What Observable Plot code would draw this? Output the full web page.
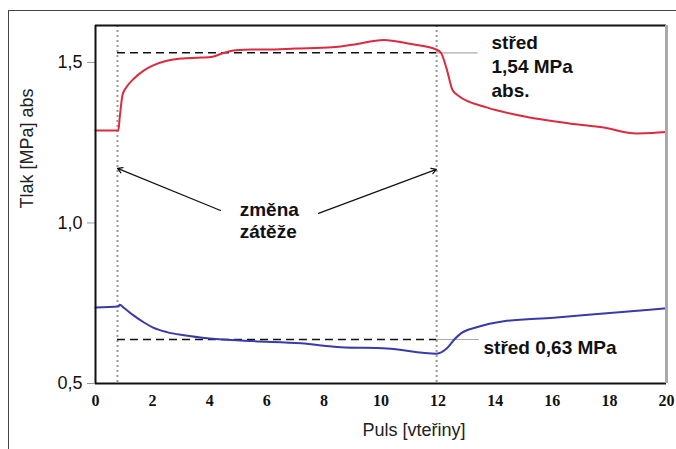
<!DOCTYPE html>
<html>
<head>
<meta charset="utf-8">
<script src="https://cdn.jsdelivr.net/npm/d3@7"></script>
<script src="https://cdn.jsdelivr.net/npm/@observablehq/plot@0.6"></script>
<style>
  html, body { margin: 0; padding: 0; background: #fff; }
  #wrap { position: relative; width: 676px; height: 449px; overflow: hidden; }
  #outer { position: absolute; left: 8px; top: 10px; width: 700px; height: 460px;
           border-top: 1.5px solid #444; border-left: 1.5px solid #444; }
  #chart { position: absolute; left: 0; top: 0; }
</style>
</head>
<body>
<div id="wrap"><div id="outer"></div><div id="chart"></div></div>
<script>
// Red series (upper pressure), seconds vs MPa abs
const redX = [0, 0.8, 0.85, 0.95, 1.1, 1.35, 1.7, 2.0, 2.5, 3.0, 3.7, 4.1, 4.5, 4.9, 5.5, 6.0, 7.0, 8.3, 9.0, 10.1, 11.0, 11.95, 12.1, 12.3, 12.5, 12.7, 13.7, 14.85, 16.6, 17.8, 18.95, 19.5, 20];
const redY = [1.288, 1.288, 1.33, 1.40, 1.425, 1.45, 1.475, 1.49, 1.505, 1.512, 1.515, 1.518, 1.53, 1.538, 1.54, 1.54, 1.543, 1.547, 1.555, 1.57, 1.558, 1.54, 1.53, 1.48, 1.415, 1.397, 1.36, 1.335, 1.31, 1.297, 1.279, 1.28, 1.283];
// Blue series (lower pressure)
const blueX = [0, 0.8, 0.85, 1.0, 1.33, 1.7, 2.0, 2.5, 3.1, 4.0, 5.5, 7.2, 8.6, 10.2, 11.95, 12.3, 12.6, 12.8, 13.35, 14.3, 16.05, 17.8, 20];
const blueY = [0.737, 0.74, 0.745, 0.735, 0.712, 0.69, 0.675, 0.66, 0.65, 0.64, 0.632, 0.625, 0.613, 0.609, 0.593, 0.609, 0.64, 0.656, 0.675, 0.694, 0.705, 0.718, 0.734];
// Load-change instants (vertical dotted lines)
const changeX = [0.77, 11.95];
// Mean levels (dashed) and their label connectors
const meanY = [1.53, 0.637];
const meanX1 = [0.77, 0.77];
const meanX2 = [11.95, 11.95];
const connX2 = [13.4, 13.45];
// Arrows
const arrowX1 = [4.38, 7.81];
const arrowY1 = [1.039, 1.03];
const arrowX2 = [0.77, 11.94];
const arrowY2 = [1.17, 1.167];
// Annotations
const noteText = ["změna\nzátěže", "střed\n1,54 MPa\nabs.", "střed 0,63 MPa"];
const noteX = [5.05, 13.87, 13.59];
const noteY = [1.01, 1.593, 0.615];
const noteAnchor = ["middle", "top", "middle"];
// Axes
const xTicks = [0, 2, 4, 6, 8, 10, 12, 14, 16, 18, 20];
const yTicks = [0.5, 1.0, 1.5];
const xDomain = [0, 20];
const yDomain = [0.5, 1.615];
const xLabel = "Puls [vteřiny]";
const yLabel = "Tlak [MPa] abs";

const red = redX.map((x, i) => ({x, y: redY[i]}));
const blue = blueX.map((x, i) => ({x, y: blueY[i]}));
const means = meanY.map((y, i) => ({y, x1: meanX1[i], x2: meanX2[i], c2: connX2[i]}));
const arrows = arrowX1.map((x1, i) => ({x1, y1: arrowY1[i], x2: arrowX2[i], y2: arrowY2[i]}));
const notes = noteText.map((t, i) => ({t, x: noteX[i], y: noteY[i], a: noteAnchor[i]}));

const fmt = d => d3.format(".1f")(d).replace(".", ",");
const sans = "Liberation Sans, Arial, sans-serif";

const chart = Plot.plot({
  width: 676,
  height: 449,
  marginLeft: 95,
  marginRight: 10,
  marginTop: 25,
  marginBottom: 66,
  style: {fontFamily: sans, background: "transparent", overflow: "visible"},
  x: {domain: xDomain, ticks: xTicks},
  y: {domain: yDomain, ticks: yTicks},
  marks: [
    Plot.axisX({ticks: xTicks, tickSize: 0, tickPadding: 11, label: null,
      fontFamily: "Liberation Serif, Times New Roman, serif", fontWeight: "bold", fontSize: 16, fill: "#111"}),
    Plot.axisY({ticks: yTicks, tickSize: 8, tickPadding: 5, label: null, tickFormat: fmt,
      fontSize: 18, fill: "#111", stroke: "#999"}),
    Plot.text([xLabel], {frameAnchor: "bottom", dx: 33, dy: 47, lineAnchor: "middle", fontSize: 18, fill: "#222"}),
    Plot.text([yLabel], {frameAnchor: "left", rotate: -90, dx: -68, dy: 4, fontSize: 18, fill: "#222"}),
    // vertical dotted lines
    Plot.ruleX(changeX, {stroke: "#999", strokeWidth: 2, strokeDasharray: "2,3"}),
    // connectors to labels
    Plot.ruleY(means, {y: "y", x1: "x2", x2: "c2", stroke: "#aaa", strokeWidth: 1.2}),
    // dashed mean lines
    Plot.ruleY(means, {y: "y", x1: "x1", x2: "x2", stroke: "#111", strokeWidth: 1.5, strokeDasharray: "8,5"}),
    // series
    Plot.line(red, {x: "x", y: "y", stroke: "#dc2a3e", strokeWidth: 2, curve: "monotone-x"}),
    Plot.line(blue, {x: "x", y: "y", stroke: "#3a3aa8", strokeWidth: 2, curve: "monotone-x"}),
    // arrows
    Plot.arrow(arrows, {x1: "x1", y1: "y1", x2: "x2", y2: "y2", stroke: "#111", strokeWidth: 1.2, headLength: 7}),
    // annotations
    Plot.text(notes.filter(d => d.a === "middle"), {x: "x", y: "y", text: "t", textAnchor: "start", lineAnchor: "middle",
      fontSize: 19, fontWeight: "bold", fill: "#111", lineHeight: 1.2}),
    Plot.text(notes.filter(d => d.a === "top"), {x: "x", y: "y", text: "t", textAnchor: "start", lineAnchor: "top",
      fontSize: 19, fontWeight: "bold", fill: "#111", lineHeight: 1.25}),
    // plot frame
    Plot.ruleY([yDomain[1]], {stroke: "#111", strokeWidth: 2}),
    Plot.ruleY([yDomain[0]], {stroke: "#111", strokeWidth: 2}),
    Plot.ruleX([xDomain[0]], {stroke: "#111", strokeWidth: 2}),
    Plot.ruleX([xDomain[1]], {stroke: "#aaa", strokeWidth: 3})
  ]
});
document.getElementById("chart").appendChild(chart);
</script>
</body>
</html>
